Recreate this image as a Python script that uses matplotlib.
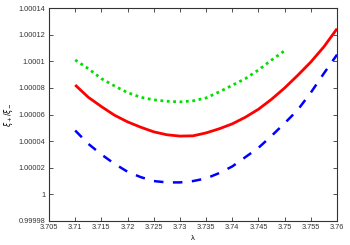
import matplotlib
matplotlib.use('Agg')
import matplotlib.pyplot as plt

# lambda grid and the three ratio curves
lam = [3.71, 3.7125, 3.715, 3.7175, 3.72, 3.7225, 3.725, 3.7275, 3.73, 3.7325, 3.735,
       3.7375, 3.74, 3.7425, 3.745, 3.7475, 3.75, 3.7525, 3.755, 3.7575, 3.76]
red = [1.0000822, 1.000073, 1.000066, 1.0000595, 1.0000545, 1.0000505, 1.000047,
       1.0000448, 1.0000438, 1.000044, 1.0000462, 1.0000493, 1.000053, 1.000058,
       1.000064, 1.0000715, 1.00008, 1.0000895, 1.0000995, 1.000111, 1.0001245]
green = [1.000101, 1.0000945, 1.000087, 1.0000815, 1.0000765, 1.000073, 1.000071,
         1.00007, 1.0000695, 1.0000703, 1.0000725, 1.000077, 1.000082, 1.000087,
         1.0000935, 1.000101, 1.000108]
blue = [1.000048, 1.000038, 1.00003, 1.000023, 1.000017, 1.000013, 1.00001, 1.000009,
        1.000009, 1.00001, 1.000012, 1.000016, 1.000021, 1.000028, 1.000035, 1.000044,
        1.0000535, 1.0000635, 1.0000765, 1.000091, 1.000105]

xticks = [3.705, 3.71, 3.715, 3.72, 3.725, 3.73, 3.735, 3.74, 3.745, 3.75, 3.755, 3.76]
yticks = [0.99998, 1.0, 1.00002, 1.00004, 1.00006, 1.00008, 1.0001, 1.00012, 1.00014]

plt.rcParams['font.family'] = ['Liberation Sans', 'DejaVu Sans']

fig = plt.figure(figsize=(3.5, 2.45), dpi=100)
ax = fig.add_axes([0.14, 0.098, 0.823, 0.869])

ax.plot(lam, red, color='#ff0000', lw=2.0, solid_capstyle='butt')
ax.plot(lam[:len(green)], green, color='#00e000', lw=2.0, dashes=(1, 1.3))
ax.plot(lam, blue, color='#0000ff', lw=1.8, dashes=(3.8, 3.8))

ax.set_xlim(3.705, 3.76)
ax.set_ylim(0.99998, 1.00014)
ax.set_xticks(xticks)
ax.set_xticklabels([f'{v:g}' for v in xticks])
ax.set_yticks(yticks)
ax.set_yticklabels([f'{v:.5f}'.rstrip('0').rstrip('.') for v in yticks])
ax.tick_params(direction='in', length=3, width=0.6, labelsize=5.3, pad=2.5,
               top=True, right=True, colors='#333333')
for s in ax.spines.values():
    s.set_linewidth(0.8)
    s.set_color('#333333')

ax.set_xlabel('λ', fontsize=5.5, labelpad=2.5)
ax.set_ylabel(r'$\xi_+/\xi_-$', fontsize=5.5, labelpad=3)

fig.savefig('out.png', dpi=100)
